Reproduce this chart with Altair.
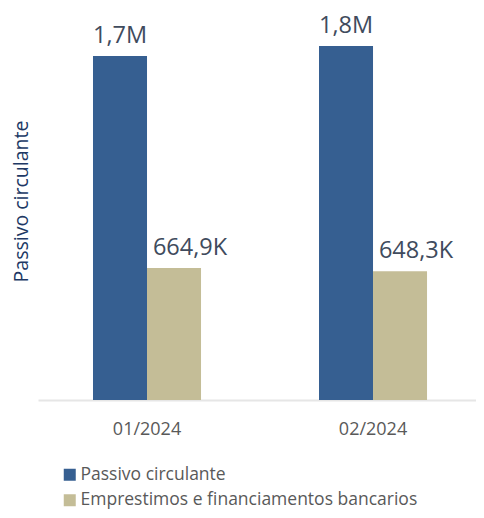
import altair as alt
import pandas as pd

periods = ["01/2024", "02/2024"]
series = ["Passivo circulante", "Emprestimos e financiamentos bancarios"]
passivo = [1733000, 1783000]
emprestimos = [664900, 648300]
passivo_labels = ["1,7M", "1,8M"]
emprestimos_labels = ["664,9K", "648,3K"]
colors = ["#365F91", "#C4BD97"]

rows = []
for i, p in enumerate(periods):
    rows.append({"period": p, "series": series[0], "value": passivo[i], "label": passivo_labels[i]})
    rows.append({"period": p, "series": series[1], "value": emprestimos[i], "label": emprestimos_labels[i]})
df = pd.DataFrame(rows)

W, H = 438, 382
FONT = "Open Sans"

x = alt.X(
    "period:N", sort=periods,
    scale=alt.Scale(paddingInner=0.522, paddingOuter=0.230, align=0.529),
    axis=alt.Axis(title=None, labelAngle=0, ticks=False, labelPadding=20,
                  labelFontSize=18, labelColor="#595959", labelFont=FONT,
                  domainColor="#e6e6e6", domainWidth=2),
)
xo = alt.XOffset("series:N", sort=series,
                 scale=alt.Scale(domain=series, paddingInner=0, paddingOuter=0))
y = alt.Y(
    "value:Q", scale=alt.Scale(domain=[0, 1924000]),
    axis=alt.Axis(labels=False, ticks=False, domain=False, grid=False,
                  title="Passivo circulante", titleFontSize=19.5, titleFont=FONT,
                  titleFontWeight="normal", titleColor="#203864", titleAngle=270,
                  titleX=-17, titleY=183, titleAlign="center", titleBaseline="middle"),
)
color = alt.Color(
    "series:N", sort=series,
    scale=alt.Scale(domain=series, range=colors),
    legend=alt.Legend(title=None, orient="none", legendX=23, legendY=448,
                      direction="vertical", symbolType="square", symbolSize=144,
                      symbolStrokeWidth=0, labelFontSize=17.5, labelFont=FONT,
                      labelColor="#595959", rowPadding=6.5, padding=0, labelOffset=2,
                      labelLimit=0),
)

base = alt.Chart(df)
bars = base.mark_bar().encode(x=x, xOffset=xo, y=y, color=color)
t1 = base.transform_filter(alt.datum.series == series[0]).mark_text(
    dy=-13, baseline="alphabetic", fontSize=23.5, font=FONT, color="#404b5d"
).encode(x=x, xOffset=xo, y=y, text="label:N")
t2 = base.transform_filter(alt.datum.series == series[1]).mark_text(
    dy=-13, dx=16, baseline="alphabetic", fontSize=23.5, font=FONT, color="#404b5d"
).encode(x=x, xOffset=xo, y=y, text="label:N")

chart = alt.layer(bars, t1, t2).properties(
    width=W, height=H,
    padding={"left": 30, "top": 10, "right": 0, "bottom": 110},
    autosize=alt.AutoSizeParams(type="none"),
).configure_view(stroke=None)

chart.save("out.html", embed_options={"renderer": "svg", "actions": False})
